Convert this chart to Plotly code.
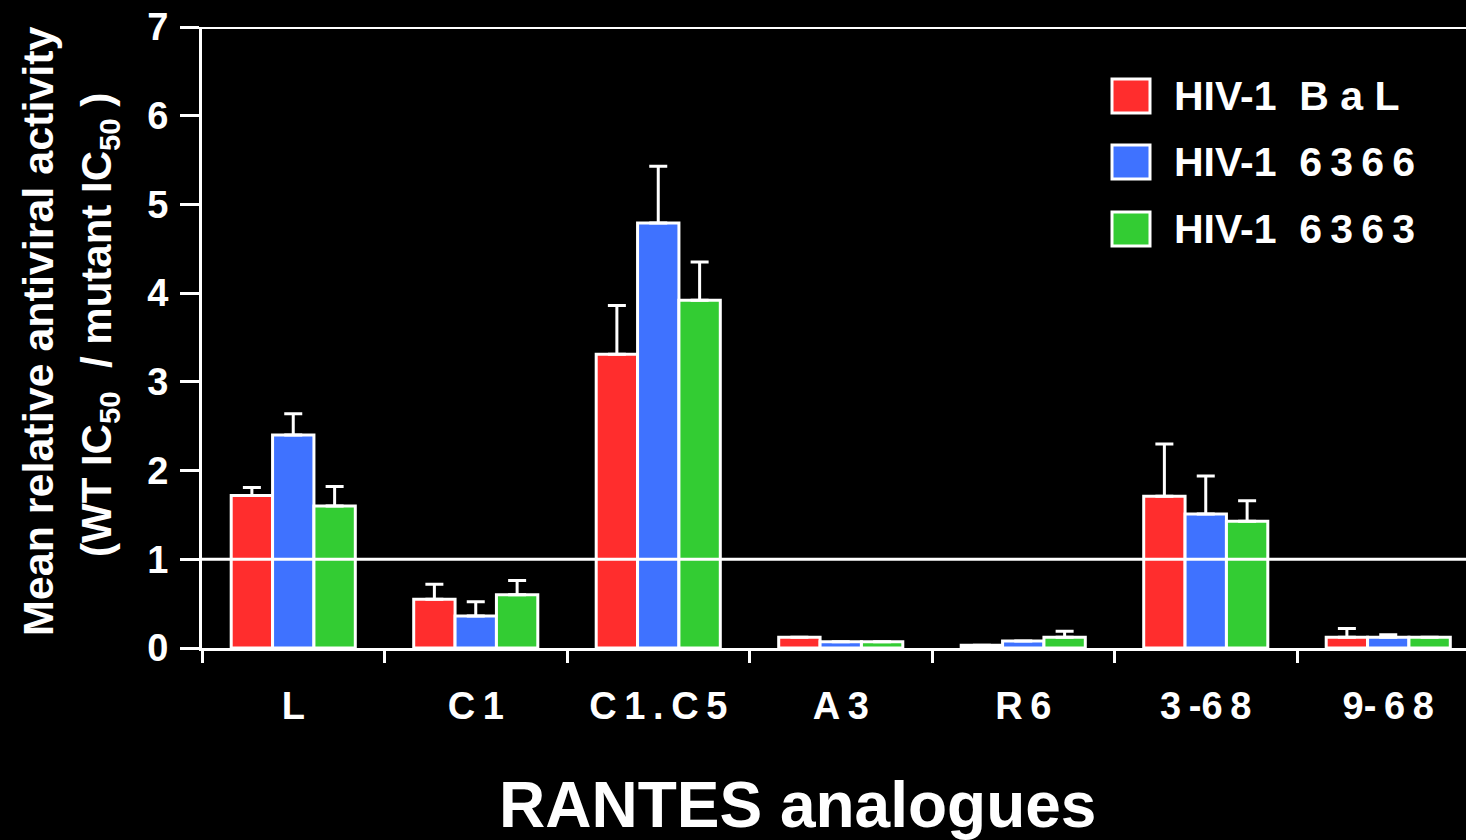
import plotly.graph_objects as go

# RANTES analogues and their relative antiviral activity against three HIV-1 isolates
categories = ["L", "C1", "C1.C5", "A3", "R6", "3-68", "9-68"]
tick_labels = ["L", "C\u20091", "C\u20091\u2009.\u2009C\u20095", "A\u20093", "R\u20096",
               "3\u2009-6\u20098", "9-\u20096\u20098"]

series_names = ["HIV-1 BaL", "HIV-1 6366", "HIV-1 6363"]
legend_labels = ["HIV-1\u00a0\u00a0B\u00a0a\u00a0L",
                 "HIV-1\u00a0\u00a06\u20093\u20096\u20096",
                 "HIV-1\u00a0\u00a06\u20093\u20096\u20093"]
colors = ["#ff2d2d", "#3f72ff", "#33cc33"]

bal_mean = [1.72, 0.55, 3.31, 0.12, 0.03, 1.71, 0.12]
bal_err = [0.09, 0.17, 0.55, 0.0, 0.0, 0.59, 0.10]
i6366_mean = [2.40, 0.36, 4.79, 0.07, 0.08, 1.51, 0.12]
i6366_err = [0.24, 0.16, 0.64, 0.0, 0.0, 0.43, 0.03]
i6363_mean = [1.60, 0.60, 3.92, 0.07, 0.12, 1.43, 0.12]
i6363_err = [0.22, 0.16, 0.43, 0.0, 0.07, 0.23, 0.0]

means = [bal_mean, i6366_mean, i6363_mean]
errs = [bal_err, i6366_err, i6363_err]

FONT = "Liberation Sans, Arial, sans-serif"
W, H = 1466, 840
L_M, R_M, T_M, B_M = 202, 0, 27, 192
PW, PH = W - L_M - R_M, H - T_M - B_M
GROUP_PX = 182.5


def px_x(x):
    return (x - L_M) / PW


def px_y(y):
    return (H - B_M - y) / PH


fig = go.Figure()
for name, m, e, c in zip(series_names, means, errs, colors):
    fig.add_trace(go.Bar(
        x=categories, y=m, name=name,
        marker=dict(color=c, line=dict(color="white", width=3)),
        error_y=dict(type="data", symmetric=False, array=e,
                     arrayminus=[0] * len(e), color="white",
                     thickness=3, width=9),
        showlegend=False,
    ))

shapes = [
    # reference line at ratio 1, drawn over the bars
    dict(type="line", xref="paper", yref="y", x0=0, x1=1, y0=1, y1=1,
         line=dict(color="white", width=3), layer="above"),
    # top frame line
    dict(type="line", xref="paper", yref="y", x0=0, x1=1, y0=7, y1=7,
         line=dict(color="white", width=4), layer="above"),
]

annotations = []
# hand-built legend
legend_rows = [96, 162, 229]
for lab, c, yc in zip(legend_labels, colors, legend_rows):
    shapes.append(dict(type="rect", xref="paper", yref="paper",
                       x0=px_x(1112), x1=px_x(1150),
                       y0=px_y(yc + 17), y1=px_y(yc - 17),
                       fillcolor=c, line=dict(color="white", width=3)))
    annotations.append(dict(text=lab, xref="paper", yref="paper",
                            x=px_x(1172), y=px_y(yc), xanchor="left",
                            yanchor="middle", showarrow=False,
                            font=dict(family=FONT, size=41, color="white",
                                      weight="bold")))

# axis titles
annotations.append(dict(text="RANTES analogues", xref="paper", yref="paper",
                        x=px_x(797), y=px_y(805), xanchor="center",
                        yanchor="middle", showarrow=False,
                        font=dict(family=FONT, size=64, color="white",
                                  weight="bold")))
annotations.append(dict(text="Mean relative antiviral activity",
                        xref="paper", yref="paper", x=px_x(38), y=px_y(331),
                        xanchor="center", yanchor="middle", textangle=-90,
                        showarrow=False,
                        font=dict(family=FONT, size=43, color="white",
                                  weight="bold")))
annotations.append(dict(text="(WT IC<sub>50</sub>\u00a0\u00a0/ mutant IC<sub>50</sub>\u00a0)",
                        xref="paper", yref="paper", x=px_x(99), y=px_y(325),
                        xanchor="center", yanchor="middle", textangle=-90,
                        showarrow=False,
                        font=dict(family=FONT, size=42, color="white",
                                  weight="bold")))

fig.update_layout(
    width=W, height=H,
    margin=dict(l=L_M, r=R_M, t=T_M, b=B_M, pad=0),
    paper_bgcolor="black", plot_bgcolor="black",
    barmode="group", bargap=0.32, bargroupgap=0,
    shapes=shapes, annotations=annotations,
    showlegend=False,
    xaxis=dict(
        type="category", categoryorder="array", categoryarray=categories,
        tickmode="array", tickvals=categories, ticktext=tick_labels,
        range=[-0.5, -0.5 + PW / GROUP_PX],
        tickson="boundaries", ticks="outside", ticklen=12, tickwidth=3,
        tickcolor="white", showline=True, linecolor="white", linewidth=3,
        showgrid=False, zeroline=False, ticklabelstandoff=22,
        tickfont=dict(family=FONT, size=38, color="white", weight="bold"),
    ),
    yaxis=dict(
        range=[0, 7], tickmode="array", tickvals=list(range(8)),
        ticks="outside", ticklen=19, tickwidth=3, tickcolor="white",
        showline=True, linecolor="white", linewidth=3,
        showgrid=False, zeroline=False, ticklabelstandoff=4,
        tickfont=dict(family=FONT, size=38, color="white", weight="bold"),
    ),
)

fig.write_html("out.html")
